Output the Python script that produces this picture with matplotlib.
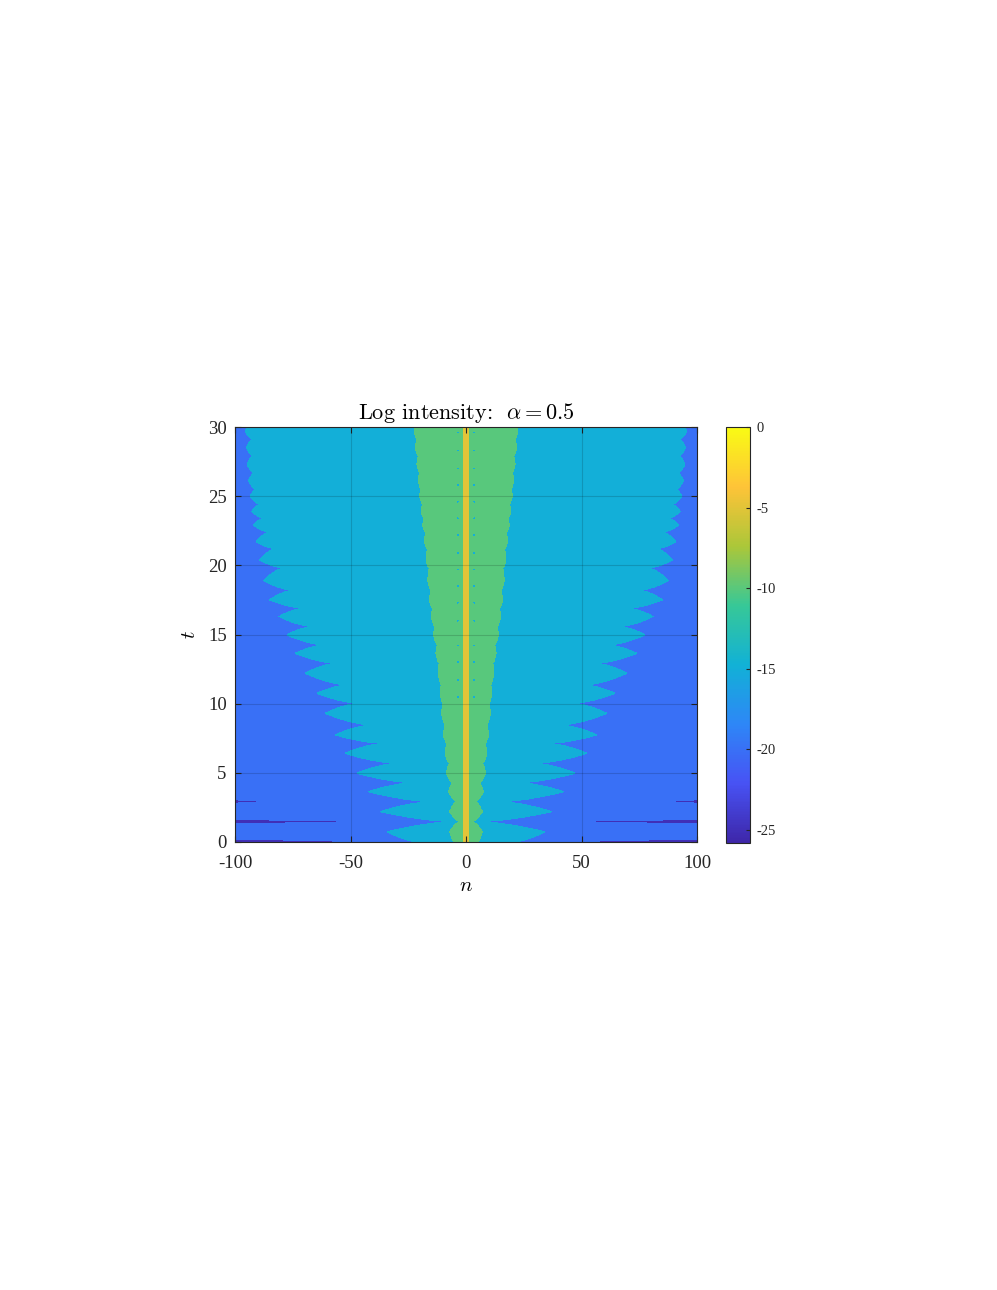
import numpy as np
import matplotlib
matplotlib.use("Agg")
import matplotlib.pyplot as plt
from matplotlib.colors import LinearSegmentedColormap, Normalize
from matplotlib.cm import ScalarMappable

# MATLAB parula(8) anchor colours
parula_rgb = [(0.2422, 0.1504, 0.6603), (0.2810, 0.3228, 0.9579),
              (0.1786, 0.5289, 0.9682), (0.0689, 0.6948, 0.8394),
              (0.2161, 0.7843, 0.5923), (0.6720, 0.7793, 0.2227),
              (0.9970, 0.7659, 0.2199), (0.9769, 0.9839, 0.0805)]
parula = LinearSegmentedColormap.from_list("parula", parula_rgb, N=256)

# contour levels and colour limits
levels = [-25, -20, -15, -10, -5, 0]
clim = (-25.8, 0)

# times of the lobes (alternating outer tip / inner notch)
t_knots = [0.0, 0.74, 1.47, 2.19, 2.92, 3.64, 4.29, 4.97, 5.69, 6.41, 7.13,
           7.74, 8.46, 9.30, 10.03, 10.75, 11.35, 12.20, 12.92, 13.64, 14.24,
           14.97, 15.57, 16.30, 16.90, 17.50, 18.20, 18.90, 19.80, 20.40,
           21.20, 21.70, 22.40, 22.90, 23.40, 23.90, 24.40, 25.00, 25.50,
           26.10, 26.70, 27.30, 27.90, 28.50, 29.10, 29.70, 30.0]
# half width |n| of the -15 contour (cyan / blue edge)
cyan_half = [20, 34.0, 4, 37.2, 14.1, 42.3, 22.1, 47.3, 29.3, 52.4, 35.1,
             56.7, 40.4, 61.0, 45.9, 64.6, 50.9, 69.7, 56.0, 74.0, 61.0,
             77.6, 66.1, 81.0, 70.1, 85.1, 74.8, 87.7, 78.6, 89.5,
             82.3, 90.9, 85.1, 92.1, 87.7, 92.8, 89.2, 93.5, 90.9,
             94.2, 91.8, 94.9, 92.1, 95.2, 92.4, 95.7, 94.0]
# half width |n| of the -10 contour (green / cyan edge)
green_half = [5, 7, 2.5, 7, 4, 7.5, 5.5, 8.5, 7, 9, 8,
              9.8, 8.8, 10.5, 9.8, 11.2, 10.5, 12, 11.5, 13, 12.3,
              14, 13.3, 15, 14.3, 15.8, 15, 16.5, 15.8, 17.2,
              16.5, 18, 17.3, 18.7, 18, 19.4, 18.7, 20, 19.3,
              20.6, 20, 21.2, 20.6, 21.8, 21.2, 22.3, 22]
core_half = 1.0      # -5 contour around n = 0
edge_value = -17.5   # level far from the centre

# dark streaks (< -20) near the edges
streak_t = [0.0, 1.47, 2.93]
streak_start = [30, 38, 84]
streak_half = [0.2, 0.17, 0.12]

# small dots inside the green band
dot_t = [10.5, 11.7, 13.0, 14.2, 16.0, 17.3, 18.5, 19.7, 20.9, 22.2, 23.4,
         24.6, 25.8, 27.0, 28.3, 29.6]
dot_n = 3.5


def lobe_profile(tt, knots, vals, p=0.6):
    # lens-like lobe at each local maximum, thin cusp at each notch
    knots = np.asarray(knots, float)
    vals = np.asarray(vals, float)
    idx = np.clip(np.searchsorted(knots, tt, side='right') - 1, 0, len(knots) - 2)
    t0, t1 = knots[idx], knots[idx + 1]
    v0, v1 = vals[idx], vals[idx + 1]
    hi_t = np.where(v1 >= v0, t1, t0)
    s = np.clip(np.abs(tt - hi_t) / (t1 - t0), 0, 1)
    lo, hi = np.minimum(v0, v1), np.maximum(v0, v1)
    return lo + (hi - lo) * (1 - s) ** p


n = np.linspace(-100, 100, 801)
t = np.linspace(0, 30, 1501)
N, T = np.meshgrid(n, t)
A = np.abs(N)

wg = lobe_profile(t, t_knots, green_half)
wc = np.maximum(lobe_profile(t, t_knots, cyan_half), wg + 0.5)
Z = np.empty_like(N)
for i in range(len(t)):
    Z[i] = np.interp(A[i], [0, core_half, wg[i], wc[i], 100],
                     [0, -5, -10, -15, edge_value])

for tc, n0, hw in zip(streak_t, streak_start, streak_half):
    h = hw * np.clip((A - n0) / (100 - n0), 0, 1)
    Z[np.abs(T - tc) < h] = -21

for td in dot_t:
    d = ((A - dot_n) / 0.8) ** 2 + ((T - td) / 0.11) ** 2
    Z[d < 1] = np.minimum(Z[d < 1], -11)

plt.rcParams['mathtext.fontset'] = 'cm'
plt.rcParams['font.family'] = 'Liberation Serif'
dark = '#262626'

fig = plt.figure(figsize=(9.97, 12.9), dpi=100)
ax = fig.add_axes([235 / 997, 448 / 1290, 462 / 997, 415 / 1290])

norm = Normalize(*clim)
fill_colors = [parula(norm(v)) for v in levels[:-1]]
ax.contourf(N, T, Z, levels=levels, colors=fill_colors, antialiased=False)

ax.set_xlim(-100, 100)
ax.set_ylim(0, 30)
ax.set_xticks([-100, -50, 0, 50, 100])
ax.set_yticks([0, 5, 10, 15, 20, 25, 30])
ax.set_xticklabels(['-100', '-50', '0', '50', '100'])
ax.set_yticklabels(['0', '5', '10', '15', '20', '25', '30'])
ax.tick_params(direction='in', length=4, width=0.8, top=True, right=True,
               labelsize=13.5, colors=dark)
ax.tick_params(axis='x', pad=9)
ax.tick_params(axis='y', pad=6)
for xg in [-50, 50]:
    ax.axvline(xg, color='k', alpha=0.15, linewidth=0.8)
for yg in [5, 10, 15, 20, 25]:
    ax.axhline(yg, color='k', alpha=0.15, linewidth=0.8)
for s in ax.spines.values():
    s.set_color(dark)
    s.set_linewidth(0.8)

ax.set_title(r'Log intensity: $\ \alpha = 0.5$', fontsize=16, fontfamily='cmr10',
             color='k', pad=6)
ax.set_xlabel(r'$n$', fontsize=15, labelpad=4)
ax.set_ylabel(r'$t$', fontsize=15, labelpad=6)

cax = fig.add_axes([726 / 997, 447 / 1290, 24 / 997, 416 / 1290])
cb = fig.colorbar(ScalarMappable(norm=norm, cmap=parula), cax=cax,
                  ticks=[-25, -20, -15, -10, -5, 0])
cb.ax.set_yticklabels(['-25', '-20', '-15', '-10', '-5', '0'])
cb.ax.tick_params(direction='in', length=3, width=0.8, labelsize=10.5,
                  colors=dark, pad=5)
cb.outline.set_edgecolor(dark)
cb.outline.set_linewidth(0.8)

fig.savefig('out.png', dpi=100)
